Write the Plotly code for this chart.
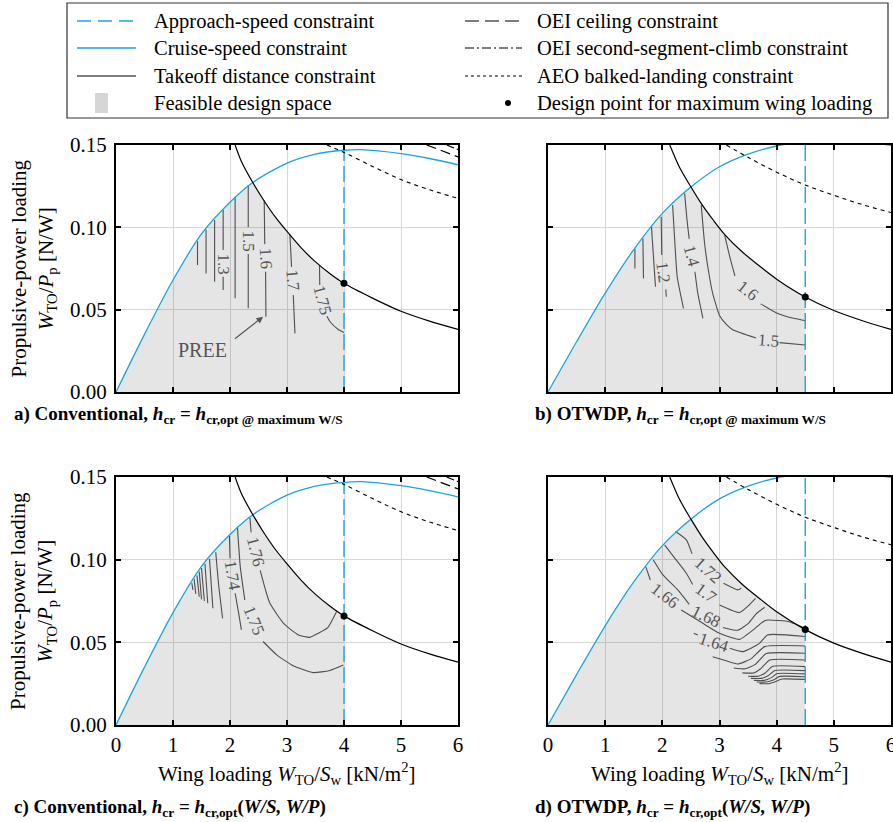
import plotly.graph_objects as go

FIG_W, FIG_H = 893, 822
SERIF = "Liberation Serif"
CYAN = "#1ba6da"
CONTOUR_COLOR = "#4f4f4f"
LABEL_COLOR = "#555555"
FILL_COLOR = "rgba(0,0,0,0.10)"

# ---------------- data ----------------
X_TICKS = [0, 1, 2, 3, 4, 5, 6]
Y_TICKS = [0.0, 0.05, 0.10, 0.15]
Y_TICK_TEXT = ["0.00", "0.05", "0.10", "0.15"]
X_RANGE = [0, 6]
Y_RANGE = [0, 0.15]

# Conventional configuration (panels a, c)
CONV_CRUISE_X = [0, 0.5, 1.0, 1.5, 2.0, 2.4, 3.0, 3.5, 4.0, 4.3, 5.0, 5.5, 6.0]
CONV_CRUISE_Y = [0, 0.035, 0.068, 0.096, 0.1152, 0.1272, 0.139, 0.1445, 0.1468, 0.1472, 0.1448, 0.1418, 0.138]
CONV_TAKEOFF_X = [2.09, 2.2, 2.4, 2.6, 2.8, 3.0, 3.25, 3.5, 3.75, 4.0, 4.5, 5.0, 5.5, 6.0]
CONV_TAKEOFF_Y = [0.150, 0.140, 0.1272, 0.116, 0.106, 0.0975, 0.0875, 0.079, 0.072, 0.066, 0.057, 0.049, 0.043, 0.038]
CONV_AEO_X = [3.7, 4.0, 4.5, 5.0, 5.5, 6.0]
CONV_AEO_Y = [0.15, 0.1455, 0.137, 0.129, 0.1228, 0.1176]
CONV_OEI_CEIL_X = [5.45, 5.75, 6.0]
CONV_OEI_CEIL_Y = [0.15, 0.1462, 0.1428]
CONV_OEI_CLIMB_X = [5.8, 6.0]
CONV_OEI_CLIMB_Y = [0.15, 0.1472]
CONV_APPROACH_WS = 4.0
CONV_DESIGN_WP = 0.066
CONV_CORNER = (2.4, 0.1272)

# OTWDP configuration (panels b, d)
OTW_CRUISE_X = [0, 0.5, 1.0, 1.5, 2.0, 2.5, 3.0, 3.5, 4.0, 4.5, 5.0, 5.5, 6.0]
OTW_CRUISE_Y = [0, 0.0305, 0.060, 0.0865, 0.1085, 0.1245, 0.1368, 0.1445, 0.1494, 0.152, 0.1528, 0.152, 0.1498]
OTW_TAKEOFF_X = [2.13, 2.3, 2.5, 2.7, 2.9, 3.1, 3.4, 3.7, 4.0, 4.5, 5.0, 5.5, 6.0]
OTW_TAKEOFF_Y = [0.150, 0.1365, 0.1245, 0.1135, 0.104, 0.0953, 0.085, 0.0765, 0.0685, 0.0577, 0.0495, 0.0433, 0.038]
OTW_AEO_X = [3.12, 3.5, 4.0, 4.5, 5.0, 5.5, 6.0]
OTW_AEO_Y = [0.15, 0.1425, 0.1335, 0.1257, 0.1195, 0.1138, 0.109]
OTW_APPROACH_WS = 4.5
OTW_DESIGN_WP = 0.0577
OTW_CORNER = (2.5, 0.1245)

# PREE contours (None = gap where the contour label sits)
A_CONTOUR_X = [
    [1.43, 1.43], [1.58, 1.58], [1.73, 1.73],
    [1.88, 1.88, None, 1.88, 1.88],
    [2.09, 2.09],
    [2.32, 2.32, None, 2.32, 2.32],
    [2.60, 2.61, None, 2.625, 2.63],
    [3.05, 3.08, None, 3.11, 3.14],
    [3.57, 3.575, None, 3.70, 3.76, 3.90, 4.0],
]
A_CONTOUR_Y = [
    [0.0915, 0.0771], [0.0985, 0.072], [0.1045, 0.067],
    [0.1105, 0.0862, None, 0.070, 0.0619],
    [0.1186, 0.0569],
    [0.1256, 0.100, None, 0.0838, 0.0508],
    [0.1165, 0.0898, None, 0.073, 0.0457],
    [0.096, 0.076, None, 0.0589, 0.0356],
    [0.077, 0.065, None, 0.046, 0.0425, 0.038, 0.0362],
]
A_LABEL_TEXT = ["1.3", "1.5", "1.6", "1.7", "1.75"]
A_LABEL_X = [1.88, 2.32, 2.62, 3.095, 3.62]
A_LABEL_Y = [0.078, 0.0919, 0.0814, 0.0675, 0.0555]
A_LABEL_ANGLE = [90, 90, 87, 85, 75]

B_CONTOUR_X = [
    [1.52, 1.52], [1.66, 1.67], [1.81, 1.88],
    [1.98, 1.99, None, 2.06, 2.07],
    [2.18, 2.22, 2.26, 2.37],
    [2.39, 2.43, 2.47, None, 2.57, 2.62, 2.71],
    [2.68, 2.74, 2.80, 2.88, 3.0, 3.12, 3.23, 3.64, None, 4.05, 4.5],
    [3.09, 3.18, 3.27, None, 3.72, 3.99, 4.2, 4.5],
]
B_CONTOUR_Y = [
    [0.087, 0.075], [0.0933, 0.069], [0.1004, 0.0639],
    [0.1064, 0.0832, None, 0.0623, 0.0578],
    [0.1135, 0.09, 0.07, 0.0508],
    [0.1206, 0.105, 0.093, None, 0.073, 0.06, 0.0447],
    [0.1135, 0.09, 0.075, 0.06, 0.0465, 0.041, 0.0378, 0.0328, None, 0.030, 0.0285],
    [0.0953, 0.0821, 0.0705, None, 0.0535, 0.0481, 0.0455, 0.0433],
]
B_LABEL_TEXT = ["1.2", "1.4", "1.6", "1.5"]
B_LABEL_X = [2.02, 2.52, 3.49, 3.85]
B_LABEL_Y = [0.0728, 0.0825, 0.0615, 0.0315]
B_LABEL_ANGLE = [83, 75, 38, 4]

C_CONTOUR_X = [
    [1.33, 1.35], [1.37, 1.40], [1.42, 1.46], [1.46, 1.50], [1.50, 1.55],
    [1.56, 1.61], [1.64, 1.70], [1.75, 1.80, 1.87],
    [1.99, 2.0, None, 2.09, 2.15, 2.20],
    [2.13, 2.18, 2.26, None, 2.58, 2.82, 3.1, 3.46, 3.75, 3.99],
    [2.35, 2.37, None, 2.53, 2.62, 2.70, 2.94, 3.20, 3.40, 3.55, 3.72, 3.87],
]
C_CONTOUR_Y = [
    [0.0858, 0.0817], [0.0882, 0.0793], [0.0905, 0.0776], [0.0928, 0.076], [0.095, 0.075],
    [0.0975, 0.0736], [0.1005, 0.0706], [0.1045, 0.085, 0.0645],
    [0.1143, 0.1008, None, 0.0797, 0.068, 0.0575],
    [0.120, 0.0958, 0.0756, None, 0.0505, 0.0424, 0.036, 0.0317, 0.033, 0.0363],
    [0.1255, 0.1165, None, 0.0935, 0.082, 0.0736, 0.0615, 0.0545, 0.053, 0.0555, 0.0591, 0.0686],
]
C_LABEL_TEXT = ["1.74", "1.76", "1.75"]
C_LABEL_X = [2.04, 2.45, 2.42]
C_LABEL_Y = [0.0903, 0.105, 0.0632]
C_LABEL_ANGLE = [80, 76, 68]

D_CONTOUR_X = [
    [2.23, 2.42, 2.52, None, 3.07, 3.32, 3.38],
    [2.04, 2.22, 2.42, 2.53, None, 3.0, 3.35, 3.50, 3.63],
    [1.84, 2.01, 2.27, 2.47, None, 3.06, 3.32, 3.50, 3.64, 3.79],
    [1.71, 1.79, None, 2.33, 2.71, 3.0, 3.35, 3.55, 3.79, 3.86, 4.22, 4.5],
    [2.55, 2.62, None, 3.18, 3.41, 3.70, 3.84, 4.5],
    [2.88, 3.1, 3.32, 3.55, 3.79, 4.5],
    [3.25, 3.45, 3.62, 3.82, 4.5],
    [3.40, 3.6, 3.72, 3.88, 4.5],
    [3.50, 3.68, 3.80, 3.93, 4.5],
    [3.55, 3.73, 3.85, 3.97, 4.5],
    [3.60, 3.78, 3.90, 4.01, 4.5],
    [3.65, 3.82, 3.94, 4.05, 4.5],
    [3.70, 3.86, 3.98, 4.09, 4.5],
]
D_CONTOUR_Y = [
    [0.117, 0.112, 0.1035, None, 0.0857, 0.0817, 0.0827],
    [0.1089, 0.1008, 0.0918, 0.085, None, 0.0726, 0.068, 0.072, 0.0766],
    [0.100, 0.0908, 0.0817, 0.073, None, 0.059, 0.0573, 0.0613, 0.0672, 0.0712],
    [0.0958, 0.0877, None, 0.0696, 0.0615, 0.0555, 0.0518, 0.0565, 0.0631, 0.0635, 0.0625, 0.0585],
    [0.0555, 0.0545, None, 0.0464, 0.0444, 0.0494, 0.0545, 0.0535],
    [0.0413, 0.039, 0.0369, 0.040, 0.0474, 0.0478],
    [0.0345, 0.034, 0.0365, 0.0432, 0.0434],
    [0.0315, 0.0315, 0.034, 0.0393, 0.0393],
    [0.0295, 0.0295, 0.0315, 0.0355, 0.0353],
    [0.0282, 0.0282, 0.0298, 0.0330, 0.0329],
    [0.0270, 0.0270, 0.0285, 0.0311, 0.0309],
    [0.0260, 0.0260, 0.0272, 0.0294, 0.0292],
    [0.0250, 0.0250, 0.0262, 0.0278, 0.0276],
]
D_LABEL_TEXT = ["1.72", "1.7", "1.68", "1.66", "1.64"]
D_LABEL_X = [2.80, 2.77, 2.76, 2.04, 2.90]
D_LABEL_Y = [0.0935, 0.0795, 0.0655, 0.0782, 0.0502]
D_LABEL_ANGLE = [42, 36, 26, 38, 18]

PREE_TEXT_POS = (1.51, 0.0255)
PREE_ARROW_FROM = (2.06, 0.0316)
PREE_ARROW_TO = (2.58, 0.0457)

CAPTIONS = [
    "<b>a) Conventional, <i>h</i><sub>cr</sub> = <i>h</i><sub>cr,opt @ maximum W/S</sub></b>",
    "<b>b) OTWDP, <i>h</i><sub>cr</sub> = <i>h</i><sub>cr,opt @ maximum W/S</sub></b>",
    "<b>c) Conventional, <i>h</i><sub>cr</sub> = <i>h</i><sub>cr,opt</sub>(<i>W/S, W/P</i>)</b>",
    "<b>d) OTWDP, <i>h</i><sub>cr</sub> = <i>h</i><sub>cr,opt</sub>(<i>W/S, W/P</i>)</b>",
]
LEGEND_LEFT = ["Approach-speed constraint", "Cruise-speed constraint",
               "Takeoff distance constraint", "Feasible design space"]
LEGEND_RIGHT = ["OEI ceiling constraint", "OEI second-segment-climb constraint",
                "AEO balked-landing constraint", "Design point for maximum wing loading"]
X_TITLE = "Wing loading <i>W</i><sub>TO</sub>/<i>S</i><sub>w</sub> [kN/m<sup>2</sup>]"
Y_TITLE = "Propulsive-power loading<br><i>W</i><sub>TO</sub>/<i>P</i><sub>p</sub> [N/W]"

# ---------------- layout helpers (pixel -> paper) ----------------
def px(x):
    return x / FIG_W


def py(y):
    return 1 - y / FIG_H


DOMAINS = {
    "a": ((116, 458), (145, 392)),
    "b": ((548, 891), (145, 392)),
    "c": ((116, 458), (477, 725)),
    "d": ((548, 891), (477, 725)),
}
AXES = {"a": ("x", "y", ""), "b": ("x2", "y2", "2"), "c": ("x3", "y3", "3"), "d": ("x4", "y4", "4")}

CONFIG = {
    "conv": dict(cx=CONV_CRUISE_X, cy=CONV_CRUISE_Y, tx=CONV_TAKEOFF_X, ty=CONV_TAKEOFF_Y,
                 ax_=CONV_AEO_X, ay_=CONV_AEO_Y, ocx=CONV_OEI_CEIL_X, ocy=CONV_OEI_CEIL_Y,
                 osx=CONV_OEI_CLIMB_X, osy=CONV_OEI_CLIMB_Y, app=CONV_APPROACH_WS,
                 dp=CONV_DESIGN_WP, corner=CONV_CORNER),
    "otw": dict(cx=OTW_CRUISE_X, cy=OTW_CRUISE_Y, tx=OTW_TAKEOFF_X, ty=OTW_TAKEOFF_Y,
                ax_=OTW_AEO_X, ay_=OTW_AEO_Y, ocx=[], ocy=[], osx=[], osy=[],
                app=OTW_APPROACH_WS, dp=OTW_DESIGN_WP, corner=OTW_CORNER),
}
PANELS = {
    "a": ("conv", A_CONTOUR_X, A_CONTOUR_Y, A_LABEL_TEXT, A_LABEL_X, A_LABEL_Y, A_LABEL_ANGLE),
    "b": ("otw", B_CONTOUR_X, B_CONTOUR_Y, B_LABEL_TEXT, B_LABEL_X, B_LABEL_Y, B_LABEL_ANGLE),
    "c": ("conv", C_CONTOUR_X, C_CONTOUR_Y, C_LABEL_TEXT, C_LABEL_X, C_LABEL_Y, C_LABEL_ANGLE),
    "d": ("otw", D_CONTOUR_X, D_CONTOUR_Y, D_LABEL_TEXT, D_LABEL_X, D_LABEL_Y, D_LABEL_ANGLE),
}

fig = go.Figure()
annotations = []
shapes = []

for key, (cfg_name, cxs, cys, ltxt, lx, ly, lang) in PANELS.items():
    cfg = CONFIG[cfg_name]
    xa, ya, _ = AXES[key]
    common = dict(xaxis=xa, yaxis=ya, showlegend=False, hoverinfo="skip")

    # feasible design space
    cx0, cy0 = cfg["corner"]
    bx = [x for x in cfg["cx"] if x < cx0] + [cx0] + [x for x in cfg["tx"] if cx0 < x <= cfg["app"]]
    by = [y for x, y in zip(cfg["cx"], cfg["cy"]) if x < cx0] + [cy0] + \
         [y for x, y in zip(cfg["tx"], cfg["ty"]) if cx0 < x <= cfg["app"]]
    fig.add_trace(go.Scatter(x=bx, y=by, mode="lines", fill="tozeroy", fillcolor=FILL_COLOR,
                             line=dict(width=0, shape="spline", smoothing=0.6), **common))

    # PREE contours
    for xs, ys in zip(cxs, cys):
        fig.add_trace(go.Scatter(x=xs, y=ys, mode="lines", connectgaps=False,
                                 line=dict(color=CONTOUR_COLOR, width=1.1, shape="spline", smoothing=0.5),
                                 **common))
    for t, x, y, a in zip(ltxt, lx, ly, lang):
        annotations.append(dict(x=x, y=y, xref=xa, yref=ya, text=t, showarrow=False,
                                xanchor="center", yanchor="middle",
                                textangle=a, font=dict(family=SERIF, size=17, color=LABEL_COLOR)))

    # constraints
    fig.add_trace(go.Scatter(x=cfg["cx"], y=cfg["cy"], mode="lines",
                             line=dict(color=CYAN, width=1.3, shape="spline", smoothing=0.8), **common))
    fig.add_trace(go.Scatter(x=cfg["tx"], y=cfg["ty"], mode="lines",
                             line=dict(color="black", width=1.2, shape="spline", smoothing=0.8), **common))
    fig.add_trace(go.Scatter(x=[cfg["app"], cfg["app"]], y=Y_RANGE, mode="lines",
                             line=dict(color=CYAN, width=1.4, dash="16px,5px"), **common))
    fig.add_trace(go.Scatter(x=cfg["ax_"], y=cfg["ay_"], mode="lines",
                             line=dict(color="black", width=1.1, dash="4px,4px", shape="spline"), **common))
    if cfg["ocx"]:
        fig.add_trace(go.Scatter(x=cfg["ocx"], y=cfg["ocy"], mode="lines",
                                 line=dict(color="black", width=1.2, dash="10px,5px"), **common))
        fig.add_trace(go.Scatter(x=cfg["osx"], y=cfg["osy"], mode="lines",
                                 line=dict(color="black", width=1.2, dash="8px,3px,2px,3px"), **common))
    fig.add_trace(go.Scatter(x=[cfg["app"]], y=[cfg["dp"]], mode="markers",
                             marker=dict(color="black", size=7), **common))

# PREE annotation (panel a)
annotations.append(dict(x=PREE_TEXT_POS[0], y=PREE_TEXT_POS[1], xref="x", yref="y", text="PREE",
                        showarrow=False, xanchor="center", yanchor="middle",
                        font=dict(family=SERIF, size=20, color=LABEL_COLOR)))
annotations.append(dict(x=PREE_ARROW_TO[0], y=PREE_ARROW_TO[1], ax=PREE_ARROW_FROM[0], ay=PREE_ARROW_FROM[1],
                        xref="x", yref="y", axref="x", ayref="y", text="", showarrow=True,
                        arrowhead=2, arrowsize=1.1, arrowwidth=1.2, arrowcolor=LABEL_COLOR))

# axes
layout_axes = {}
for key, ((x0, x1), (y0, y1)) in DOMAINS.items():
    xa, ya, suf = AXES[key]
    bottom = key in ("c", "d")
    left = key in ("a", "c")
    ax_common = dict(showline=True, linecolor="black", linewidth=2, mirror="ticks",
                     ticks="inside", ticklen=5, tickwidth=1.5, tickcolor="black",
                     showgrid=True, gridcolor="#d8d8d8", gridwidth=1, zeroline=False,
                     automargin=False, ticklabeloverflow="allow",
                     tickfont=dict(family=SERIF, size=21, color="black"), fixedrange=True)
    layout_axes["xaxis" + suf] = dict(domain=[px(x0), px(x1)], range=X_RANGE, tickvals=X_TICKS,
                                      showticklabels=bottom, anchor=ya, **ax_common)
    layout_axes["yaxis" + suf] = dict(domain=[py(y1), py(y0)], range=Y_RANGE, tickvals=Y_TICKS,
                                      ticktext=Y_TICK_TEXT, showticklabels=left, anchor=xa,
                                      ticklabelstandoff=3, **ax_common)

# axis titles
for (y0, y1) in [(145, 392), (477, 725)]:
    annotations.append(dict(x=px(33), y=py((y0 + y1) / 2), xref="paper", yref="paper", text=Y_TITLE,
                            xanchor="center", yanchor="middle",
                            textangle=-90, showarrow=False, font=dict(family=SERIF, size=21, color="black")))
for (x0, x1) in [(116, 458), (548, 891)]:
    annotations.append(dict(x=px((x0 + x1) / 2), y=py(773), xref="paper", yref="paper", text=X_TITLE,
                            xanchor="center", yanchor="middle",
                            showarrow=False, font=dict(family=SERIF, size=21, color="black")))

# captions
for text, (cx, cy) in zip(CAPTIONS, [(12, 415), (533, 415), (12, 808), (533, 808)]):
    annotations.append(dict(x=px(cx), y=py(cy), xref="paper", yref="paper", text=text, showarrow=False,
                            xanchor="left", yanchor="middle",
                            font=dict(family=SERIF, size=19, color="black")))

# legend box (drawn manually to match the two-column layout)
shapes.append(dict(type="rect", xref="paper", yref="paper", x0=px(67), x1=px(888), y0=py(118), y1=py(3),
                   line=dict(color="#333333", width=1.2), fillcolor="white", layer="above"))
ROWS = [21, 48, 76, 103]
left_styles = [dict(color=CYAN, width=1.4, dash="14px,7px"), dict(color=CYAN, width=1.3), dict(color="black", width=1.2), None]
right_styles = [dict(color="black", width=1.2, dash="14px,6px"), dict(color="black", width=1.2, dash="9px,3px,2px,3px"),
                dict(color="black", width=1.1, dash="3px,3px"), None]
for row, name, st in zip(ROWS, LEGEND_LEFT, left_styles):
    if st is not None:
        shapes.append(dict(type="line", xref="paper", yref="paper", x0=px(77), x1=px(136), y0=py(row), y1=py(row),
                           line=st, layer="above"))
    else:
        shapes.append(dict(type="rect", xref="paper", yref="paper", x0=px(95), x1=px(108), y0=py(row + 10),
                           y1=py(row - 10), line=dict(width=0), fillcolor="#d6d6d6", layer="above"))
    annotations.append(dict(x=px(152), y=py(row), xref="paper", yref="paper", text=name, showarrow=False,
                            xanchor="left", yanchor="middle",
                            font=dict(family=SERIF, size=20.5, color="black")))
for row, name, st in zip(ROWS, LEGEND_RIGHT, right_styles):
    if st is not None:
        shapes.append(dict(type="line", xref="paper", yref="paper", x0=px(465), x1=px(522), y0=py(row), y1=py(row),
                           line=st, layer="above"))
    else:
        shapes.append(dict(type="circle", xref="paper", yref="paper", x0=px(505), x1=px(511), y0=py(row + 3),
                           y1=py(row - 3), line=dict(width=0), fillcolor="black", layer="above"))
    annotations.append(dict(x=px(535), y=py(row), xref="paper", yref="paper", text=name, showarrow=False,
                            xanchor="left", yanchor="middle",
                            font=dict(family=SERIF, size=20.5, color="black")))

fig.update_layout(
    width=FIG_W, height=FIG_H,
    margin=dict(l=0, r=0, t=0, b=0, autoexpand=False),
    paper_bgcolor="white", plot_bgcolor="white",
    showlegend=False,
    annotations=annotations, shapes=shapes,
    font=dict(family=SERIF, color="black"),
    **layout_axes,
)

fig.write_html("out.html", config={"displayModeBar": False},
               post_script="document.body.style.margin='0px'; document.body.style.overflow='hidden';")
